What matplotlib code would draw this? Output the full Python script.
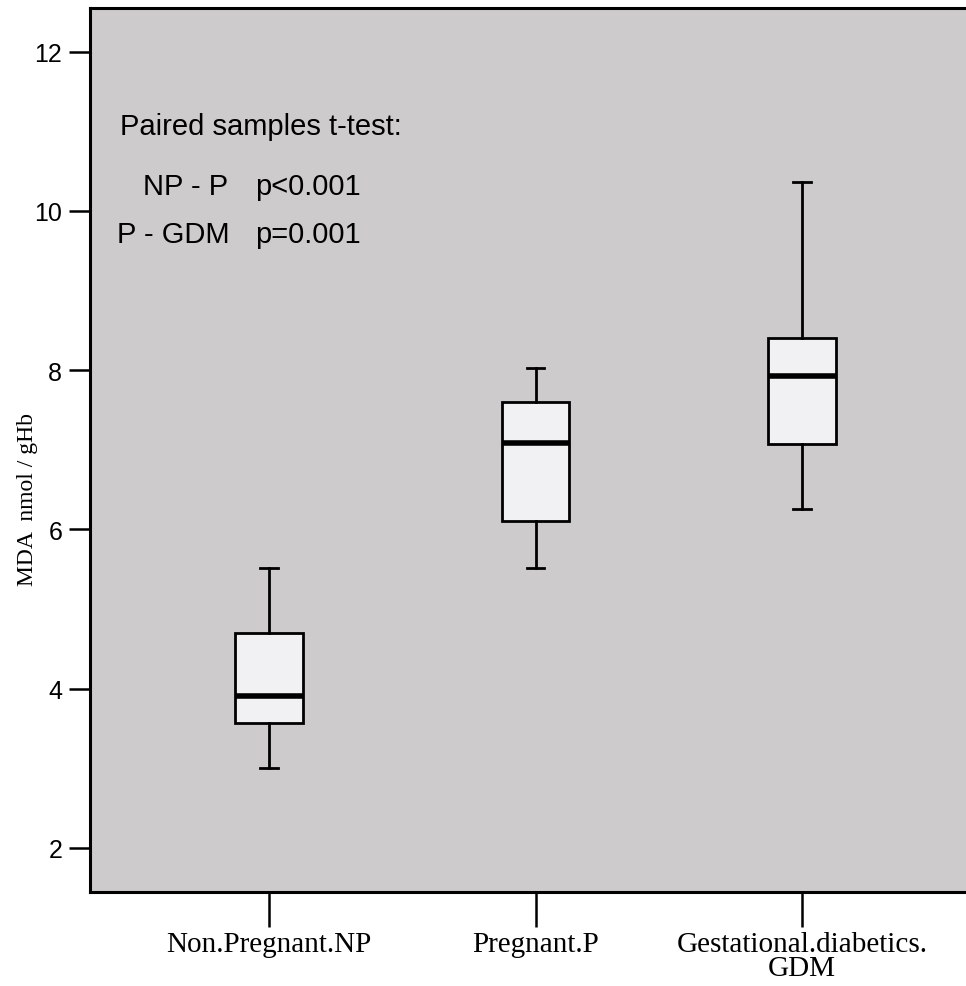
import matplotlib
matplotlib.use('Agg')
import matplotlib.pyplot as plt

# MDA levels per group
groups = ['Non.Pregnant.NP', 'Pregnant.P', 'Gestational.diabetics.\nGDM']
whisker_low = [3.00, 5.51, 6.26]
q1 = [3.57, 6.11, 7.07]
median = [3.91, 7.09, 7.93]
q3 = [4.70, 7.60, 8.40]
whisker_high = [5.51, 8.03, 10.37]

yticks = [2, 4, 6, 8, 10, 12]
stat_title = 'Paired samples t-test:'
stat_rows = [('NP - P', 'p<0.001'), ('P - GDM', 'p=0.001')]

sans = 'Liberation Sans'
serif = 'Liberation Serif'

fig = plt.figure(figsize=(9.66, 9.87), dpi=100)
ax = fig.add_axes([90/966, 94/987, 1 - 90/966, (893 - 9)/987])
ax.set_facecolor('#cdcbcb')

stats = []
for i in range(len(groups)):
    stats.append({'whislo': whisker_low[i], 'q1': q1[i], 'med': median[i],
                  'q3': q3[i], 'whishi': whisker_high[i], 'fliers': []})

ax.bxp(stats, positions=[1, 2, 3], widths=0.255, capwidths=0.065,
       patch_artist=True, showfliers=False,
       boxprops=dict(facecolor='#f1f1f3', edgecolor='black', linewidth=2.0),
       medianprops=dict(color='black', linewidth=4.0),
       whiskerprops=dict(color='black', linewidth=2.0),
       capprops=dict(color='black', linewidth=2.0))

ax.set_xlim(1 - 179/266.5, 3 + 164/266.5)
ax.set_ylim(2 - 44/79.6, 12 + 43.7/79.6)
ax.set_xticks([1, 2, 3])
ax.set_xticklabels(groups, fontfamily=serif, fontsize=21, linespacing=0.9)
ax.set_yticks(yticks)
ax.set_yticklabels([str(t) for t in yticks], fontfamily=sans, fontsize=18)
ax.tick_params(axis='x', length=25, width=1.8, pad=3)
ax.tick_params(axis='y', length=15, width=1.8, pad=5)

for side in ['left', 'bottom', 'top']:
    ax.spines[side].set_linewidth(2.2)
ax.spines['right'].set_visible(False)

ax.set_ylabel('MDA  nmol / gHb', fontfamily=serif, fontsize=17)
ax.yaxis.set_label_coords(-0.059, 0.445)

# annotation block, placed in pixel coordinates
ax.text(120, 987 - 127, stat_title, transform=None, fontfamily=sans,
        fontsize=21, va='center', ha='left')
row_y = [187, 235]
row_x = [143, 117]
for (pair, p), y, x in zip(stat_rows, row_y, row_x):
    ax.text(x, 987 - y, pair, transform=None, fontfamily=sans, fontsize=21,
            va='center', ha='left')
    ax.text(255, 987 - y, p, transform=None, fontfamily=sans, fontsize=21,
            va='center', ha='left')

fig.savefig('out.png', dpi=100)
